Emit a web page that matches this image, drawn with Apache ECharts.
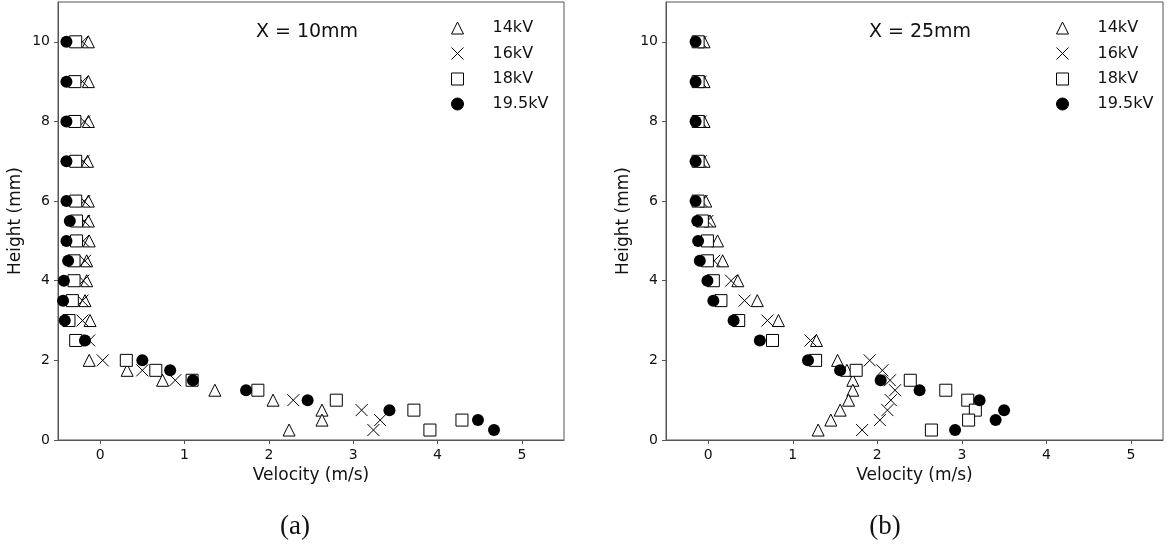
<!DOCTYPE html>
<html>
<head>
<meta charset="utf-8">
<script src="https://cdn.jsdelivr.net/npm/echarts@6/dist/echarts.min.js"></script>
<style>
  html, body { margin: 0; padding: 0; background: #fff; }
  #main { width: 1167px; height: 548px; }
</style>
</head>
<body>
<div id="main"></div>
<script>
// measuring heights (mm), shared by every series
const heights = [10, 9, 8, 7, 6, 5.5, 5, 4.5, 4, 3.5, 3, 2.5, 2, 1.75, 1.5, 1.25, 1, 0.75, 0.5, 0.25];

// (a) X = 10mm, velocity (m/s) per height
const v14a  = [-0.14, -0.14, -0.14, -0.15, -0.14, -0.14, -0.13, -0.16, -0.16, -0.18, -0.12, null, -0.13, 0.32, 0.74, 1.36, 2.05, 2.63, 2.63, 2.24];
const v16a  = [-0.21, -0.21, -0.19, -0.20, -0.19, -0.19, -0.20, -0.18, -0.20, -0.21, -0.21, -0.13, 0.03, 0.50, 0.89, null, 2.29, 3.10, 3.32, 3.24];
const v18a  = [-0.29, -0.30, -0.30, -0.29, -0.29, -0.28, -0.28, -0.31, -0.31, -0.33, -0.37, -0.29, 0.31, 0.66, 1.09, 1.87, 2.80, 3.72, 4.29, 3.91];
const v195a = [-0.40, -0.40, -0.40, -0.40, -0.40, -0.36, -0.40, -0.38, -0.43, -0.44, -0.42, -0.18, 0.50, 0.83, 1.10, 1.73, 2.46, 3.43, 4.48, 4.67];

// (b) X = 25mm
const v14b  = [-0.05, -0.05, -0.05, -0.05, -0.03, 0.02, 0.11, 0.17, 0.35, 0.58, 0.83, 1.28, 1.53, 1.64, 1.71, 1.71, 1.66, 1.56, 1.45, 1.30];
const v16b  = [-0.09, -0.09, -0.09, -0.09, -0.08, -0.01, -0.01, 0.07, 0.27, 0.43, 0.70, 1.21, 1.91, 2.06, 2.15, 2.21, 2.16, 2.12, 2.03, 1.82];
const v18b  = [-0.12, -0.12, -0.12, -0.12, -0.12, -0.07, -0.01, -0.01, 0.06, 0.15, 0.36, 0.76, 1.27, 1.75, 2.39, 2.81, 3.07, 3.16, 3.08, 2.64];
const v195b = [-0.15, -0.15, -0.15, -0.15, -0.15, -0.13, -0.12, -0.10, -0.01, 0.06, 0.30, 0.61, 1.18, 1.56, 2.04, 2.50, 3.21, 3.50, 3.40, 2.92];

const voltages = ['14kV', '16kV', '18kV', '19.5kV'];
const xTicks = [0, 1, 2, 3, 4, 5];
const yTicks = [0, 2, 4, 6, 8, 10];

const FONT = 'DejaVu Sans';
const AXIS_COLOR = '#555';

// marker looks, same order as voltages
const markers = [
  { symbol: 'triangle', itemStyle: { color: '#fff', borderColor: '#000', borderWidth: 1, opacity: 1 } },
  { symbol: 'path://M0,0L10,10M10,0L0,10', itemStyle: { color: 'none', borderColor: '#000', borderWidth: 1, opacity: 1 } },
  { symbol: 'rect', itemStyle: { color: '#fff', borderColor: '#000', borderWidth: 1, opacity: 1 } },
  { symbol: 'circle', itemStyle: { color: '#000', borderColor: '#000', borderWidth: 0, opacity: 1 } }
];

function pairs(vals) {
  const out = [];
  vals.forEach((v, i) => { if (v !== null) out.push([v, heights[i]]); });
  return out;
}

function makeSeries(list, idx) {
  return list.map((vals, k) => ({
    name: voltages[k],
    type: 'scatter',
    xAxisIndex: idx,
    yAxisIndex: idx,
    symbol: markers[k].symbol,
    symbolSize: 12,
    symbolKeepAspect: true,
    itemStyle: markers[k].itemStyle,
    emphasis: { disabled: true },
    data: pairs(vals)
  }));
}

function xAxis(idx, max) {
  return {
    type: 'value', gridIndex: idx, min: -0.5, max: max,
    name: 'Velocity (m/s)', nameLocation: 'middle', nameGap: 25,
    nameTextStyle: { fontFamily: FONT, fontSize: 17, color: '#111' },
    axisLine: { show: true, onZero: false, lineStyle: { color: AXIS_COLOR, width: 1 } },
    axisTick: { show: true, length: 4, customValues: xTicks, lineStyle: { color: AXIS_COLOR } },
    axisLabel: { customValues: xTicks, margin: 8, fontFamily: FONT, fontSize: 14, color: '#111' },
    splitLine: { show: false }
  };
}

function yAxis(idx) {
  return {
    type: 'value', gridIndex: idx, min: 0, max: 11,
    name: 'Height (mm)', nameLocation: 'middle', nameGap: 34,
    nameTextStyle: { fontFamily: FONT, fontSize: 17, color: '#111' },
    axisLine: { show: true, onZero: false, lineStyle: { color: AXIS_COLOR, width: 1 } },
    axisTick: { show: true, length: 4, customValues: yTicks, lineStyle: { color: AXIS_COLOR } },
    axisLabel: { customValues: yTicks, margin: 8, fontFamily: FONT, fontSize: 14, color: '#111' },
    splitLine: { show: false }
  };
}

function legend(left) {
  return {
    orient: 'vertical', left: left, top: 20, padding: 0,
    itemWidth: 12, itemHeight: 12, itemGap: 9,
    selectedMode: false,
    data: voltages,
    itemStyle: { borderWidth: 1, opacity: 1 },
    textStyle: { fontFamily: FONT, fontSize: 16, lineHeight: 16, color: '#111', padding: [0, 0, 0, 24] }
  };
}

function label(text, x, y, font) {
  return {
    type: 'text', x: x, y: y,
    style: { text: text, font: font, fill: '#111', textAlign: 'center', textVerticalAlign: 'middle', align: 'center', verticalAlign: 'middle' }
  };
}

const chart = echarts.init(document.getElementById('main'));
chart.setOption({
  backgroundColor: '#fff',
  animation: false,
  grid: [
    { left: 58, top: 2, width: 506, height: 438, show: true, borderColor: AXIS_COLOR, borderWidth: 1 },
    { left: 666, top: 2, width: 497, height: 438, show: true, borderColor: AXIS_COLOR, borderWidth: 1 }
  ],
  xAxis: [xAxis(0, 5.5), xAxis(1, 5.38)],
  yAxis: [yAxis(0), yAxis(1)],
  legend: [legend(449), legend(1054)],
  graphic: [
    label('X = 10mm', 307, 32, '19px "DejaVu Sans"'),
    label('X = 25mm', 920, 32, '19px "DejaVu Sans"'),
    label('(a)', 295, 527, '27px "Liberation Serif"'),
    label('(b)', 885, 527, '27px "Liberation Serif"')
  ],
  series: makeSeries([v14a, v16a, v18a, v195a], 0).concat(makeSeries([v14b, v16b, v18b, v195b], 1))
});
</script>
</body>
</html>
